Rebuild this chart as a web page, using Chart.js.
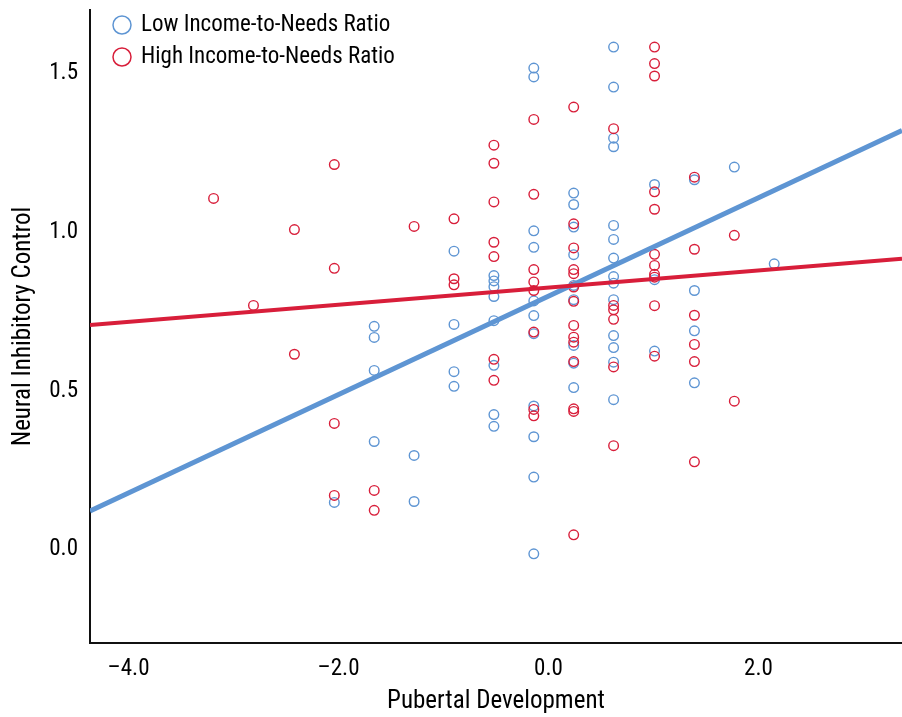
<!DOCTYPE html>
<html>
<head>
<meta charset="utf-8">
<script src="https://cdn.jsdelivr.net/npm/chart.js"></script>
<style>
  html, body { margin: 0; padding: 0; background: #fff; }
  #wrap { width: 902px; height: 717px; }
</style>
</head>
<body>
<div id="wrap"><canvas id="chart" width="902" height="717"></canvas></div>
<script>
// ===== dados
const seriesLabels = ['Low Income-to-Needs Ratio', 'High Income-to-Needs Ratio'];
const seriesColors = ['#5e95d3', '#d81e3a'];

// eixo x: desenvolvimento puberal (colunas), eixo y: controle inibitório
const lowX = [
  -2.04,
  -1.66, -1.66, -1.66, -1.66,
  -1.28, -1.28,
  -0.90, -0.90, -0.90, -0.90,
  -0.52, -0.52, -0.52, -0.52, -0.52, -0.52, -0.52, -0.52,
  -0.14, -0.14, -0.14, -0.14, -0.14, -0.14, -0.14, -0.14, -0.14, -0.14, -0.14,
  0.24, 0.24, 0.24, 0.24, 0.24, 0.24, 0.24, 0.24, 0.24,
  0.62, 0.62, 0.62, 0.62, 0.62, 0.62, 0.62, 0.62, 0.62, 0.62, 0.62, 0.62, 0.62, 0.62,
  1.01, 1.01, 1.01,
  1.39, 1.39, 1.39, 1.39,
  1.77,
  2.15
];
const lowY = [
  0.148,
  0.703, 0.668, 0.564, 0.340,
  0.296, 0.151,
  0.940, 0.709, 0.560, 0.514,
  0.863, 0.846, 0.828, 0.797, 0.721, 0.580, 0.425, 0.388,
  1.517, 1.489, 1.004, 0.952, 0.783, 0.737, 0.680, 0.452, 0.355, 0.228, -0.014,
  1.123, 1.087, 1.016, 0.929, 0.832, 0.787, 0.643, 0.587, 0.510,
  1.583, 1.457, 1.296, 1.269, 1.021, 0.977, 0.918, 0.860, 0.839, 0.787, 0.674, 0.636, 0.590, 0.472,
  1.150, 0.850, 0.625,
  1.165, 0.816, 0.689, 0.525,
  1.205,
  0.900
];
const highX = [
  -3.19,
  -2.81,
  -2.42, -2.42,
  -2.04, -2.04, -2.04, -2.04,
  -1.66, -1.66,
  -1.28,
  -0.90, -0.90, -0.90,
  -0.52, -0.52, -0.52, -0.52, -0.52, -0.52, -0.52,
  -0.14, -0.14, -0.14, -0.14, -0.14, -0.14, -0.14, -0.14,
  0.24, 0.24, 0.24, 0.24, 0.24, 0.24, 0.24, 0.24, 0.24, 0.24, 0.24, 0.24, 0.24, 0.24,
  0.62, 0.62, 0.62, 0.62, 0.62, 0.62,
  1.01, 1.01, 1.01, 1.01, 1.01, 1.01, 1.01, 1.01, 1.01, 1.01, 1.01,
  1.39, 1.39, 1.39, 1.39, 1.39, 1.39,
  1.77, 1.77
];
const highY = [
  1.106,
  0.769,
  1.008, 0.615,
  1.213, 0.886, 0.397, 0.170,
  0.186, 0.123,
  1.018,
  1.042, 0.853, 0.834,
  1.274, 1.217, 1.095, 0.968, 0.923, 0.599, 0.533,
  1.355, 1.119, 0.882, 0.843, 0.816, 0.685, 0.441, 0.421,
  1.394, 1.026, 0.950, 0.882, 0.869, 0.827, 0.782, 0.706, 0.669, 0.653, 0.592, 0.443, 0.435, 0.046,
  1.326, 0.769, 0.755, 0.725, 0.575, 0.327,
  1.583, 1.531, 1.492, 1.127, 1.072, 0.930, 0.895, 0.867, 0.858, 0.768, 0.609,
  1.173, 0.946, 0.738, 0.646, 0.592, 0.276,
  0.990, 0.467
];

// retas de regressão (baixa, alta renda)
const fitIntercept = [0.798, 0.825];
const fitSlope = [0.155, 0.027];

// limites dos eixos
const xMin = -4.367, xMax = 3.367;
const yMin = -0.295, yMax = 1.70;

const FONT = '"Liberation Sans Narrow", "Roboto Condensed", "DejaVu Sans Condensed", "Liberation Sans", sans-serif';

/* ===== helpers ===== */
const toPoints = (xs, ys) => xs.map((x, i) => ({ x, y: ys[i] }));
const fitLine = i => [xMin, xMax].map(x => ({ x, y: fitIntercept[i] + fitSlope[i] * x }));
const fmt = v => (v < 0 ? '\u2013' : '') + Math.abs(v).toFixed(1);

// legenda dentro da área do gráfico (canto superior esquerdo)
const insideLegend = {
  id: 'insideLegend',
  afterDraw(chart) {
    const { ctx, chartArea } = chart;
    ctx.save();
    ctx.font = '23px ' + FONT;
    ctx.textBaseline = 'middle';
    seriesLabels.forEach((label, i) => {
      const cy = chartArea.top + 15 + i * 32;
      const cx = chartArea.left + 32;
      ctx.beginPath();
      ctx.arc(cx, cy, 9, 0, Math.PI * 2);
      ctx.lineWidth = 1.5;
      ctx.strokeStyle = seriesColors[i];
      ctx.stroke();
      ctx.fillStyle = '#000';
      ctx.fillText(label, cx + 19, cy);
    });
    ctx.restore();
  }
};

Chart.defaults.font.family = FONT;
Chart.defaults.color = '#000';

const pointStyle = color => ({
  pointRadius: 4.8,
  pointHoverRadius: 4.8,
  pointBorderWidth: 1.4,
  pointBackgroundColor: 'rgba(255,255,255,0)',
  pointBorderColor: color,
  borderColor: color,
  showLine: false
});

// tira o padding automático das escalas, a área fica só com layout.padding
const noScalePad = s => {
  s.paddingTop = 0; s.paddingBottom = 0;
  s.paddingLeft = 0; s.paddingRight = 0;
};

new Chart(document.getElementById('chart').getContext('2d'), {
  type: 'scatter',
  data: {
    datasets: [
      { label: seriesLabels[0] + ' fit', data: fitLine(0), showLine: true, borderColor: seriesColors[0],
        borderWidth: 5, pointRadius: 0, order: 1 },
      { label: seriesLabels[1] + ' fit', data: fitLine(1), showLine: true, borderColor: seriesColors[1],
        borderWidth: 4, pointRadius: 0, order: 0 },
      { label: seriesLabels[0], data: toPoints(lowX, lowY), ...pointStyle(seriesColors[0]), order: 3 },
      { label: seriesLabels[1], data: toPoints(highX, highY), ...pointStyle(seriesColors[1]), order: 2 }
    ]
  },
  options: {
    responsive: false,
    animation: false,
    layout: { autoPadding: false, padding: { top: 10, right: 0, bottom: 0, left: 0 } },
    plugins: { legend: { display: false }, tooltip: { enabled: false } },
    scales: {
      x: {
        type: 'linear', min: xMin, max: xMax,
        afterFit: s => { s.height = 74; noScalePad(s); },
        grid: { display: false, drawTicks: false },
        border: { display: true, color: '#111', width: 2 },
        ticks: { stepSize: 2, includeBounds: false, padding: 12, font: { size: 23 }, callback: fmt },
        title: { display: true, text: 'Pubertal Development', font: { size: 25 }, padding: { top: 0, bottom: 0 } }
      },
      y: {
        type: 'linear', min: yMin, max: yMax,
        afterFit: s => { s.width = 90; noScalePad(s); },
        grid: { display: false, drawTicks: false },
        border: { display: true, color: '#111', width: 2 },
        ticks: { stepSize: 0.5, includeBounds: false, padding: 12, font: { size: 23 }, callback: fmt },
        title: { display: true, text: 'Neural Inhibitory Control', font: { size: 25 }, padding: { top: 9, bottom: 0 } }
      }
    }
  },
  plugins: [insideLegend]
});
</script>
</body>
</html>
